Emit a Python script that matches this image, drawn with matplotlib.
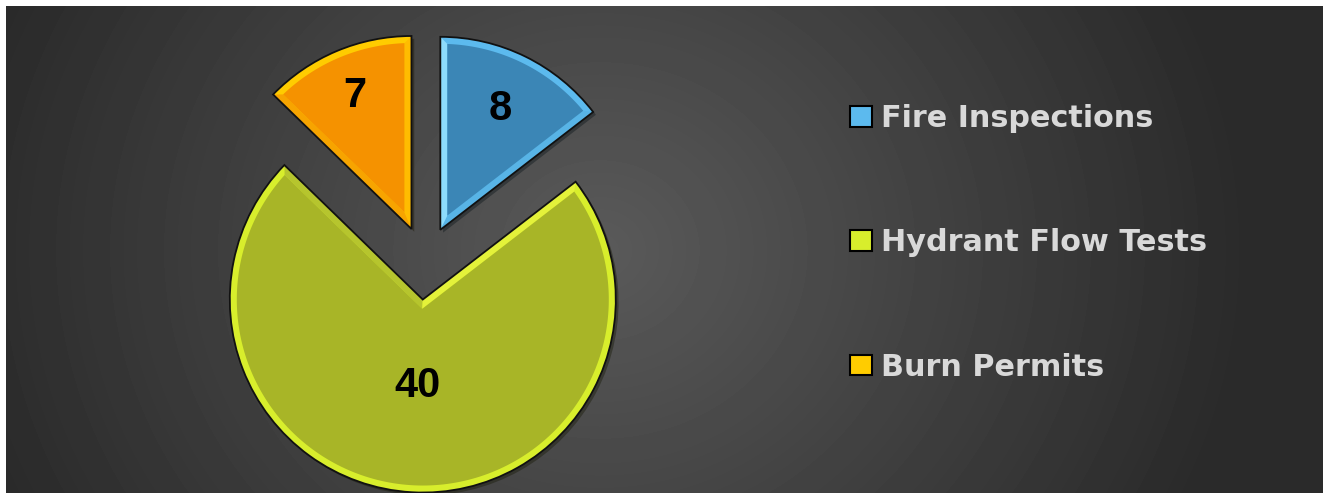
import numpy as np
import matplotlib.pyplot as plt
from matplotlib.patches import Patch, Polygon

labels = ['Fire Inspections', 'Hydrant Flow Tests', 'Burn Permits']
values = [8, 40, 7]
fill_colors = ['#3b86b6', '#a8b527', '#f59200']
bevel_colors = ['#5cbaee', '#d8ee2c', '#ffcc00']
# bevel shade of the two straight edges (theta1 side, theta2 side)
edge_colors = [('#58b4e6', '#8edcfc'), ('#b6c52e', '#e4f23a'), ('#ffbc00', '#f7a400')]
explode = [0.18, 0.2, 0.18]
label_dist = [0.70, 0.45, 0.75]

W, H = 1323, 493
fig = plt.figure(figsize=(W / 100, H / 100), dpi=100)
fig.patch.set_facecolor('white')
ax = fig.add_axes([0, 0, 1, 1])

# dark radial background, pixel coords
yy, xx = np.mgrid[6:H, 6:W]
r = np.sqrt((xx - 600.0) ** 2 + ((yy - 250.0) * 1.1) ** 2)
bg = np.clip(90 - 48 * r / 650, 42, 90) / 255.0
ax.imshow(bg, cmap='gray', vmin=0, vmax=1, extent=(6, W, 0, H - 6),
          origin='upper', interpolation='bilinear', zorder=0)

cx, cy, R = 425, H - 261, 193
bevel = 7
expl_px = [e * R for e in explode]   # pie() takes explode in data units


def inset_wedge(w, b):
    # wedge shrunk by b px on all sides (the inner face of the bevel)
    c = np.array(w.center)
    a1, a2 = np.deg2rad(w.theta1), np.deg2rad(w.theta2)
    half = (a2 - a1) / 2
    mid = (a1 + a2) / 2
    s = b / np.sin(half)
    p = c + s * np.array([np.cos(mid), np.sin(mid)])
    q = p - c
    rin = w.r - b
    hits, outer = [], []
    for a in (a1, a2):
        d = np.array([np.cos(a), np.sin(a)])
        qd = q @ d
        t = -qd + np.sqrt(qd ** 2 - q @ q + rin ** 2)
        hits.append(q + t * d)
        outer.append(c + w.r * d)
    f1 = np.arctan2(hits[0][1], hits[0][0])
    f2 = np.arctan2(hits[1][1], hits[1][0])
    if f2 < f1:
        f2 += 2 * np.pi
    arc = np.linspace(f1, f2, 200)
    pts = np.column_stack([c[0] + rin * np.cos(arc), c[1] + rin * np.sin(arc)])
    strips = [np.array([c, outer[i], c + hits[i], p]) for i in range(2)]
    return np.vstack([p, pts]), strips


# bevel colour slices
wedges, _ = ax.pie(values, colors=bevel_colors, startangle=90, counterclock=False,
                   explode=expl_px, radius=R, center=(cx, cy),
                   wedgeprops=dict(linewidth=0),
                   shadow={'ox': 2, 'oy': -2, 'shade': 0.9, 'alpha': 0.4})
for w, fc, ecs in zip(wedges, fill_colors, edge_colors):
    w.set_zorder(2)
    face, strips = inset_wedge(w, bevel)
    for st, ec in zip(strips, ecs):
        ax.add_patch(Polygon(st, closed=True, facecolor=ec, edgecolor='none', zorder=2.2))
    ax.add_patch(Polygon(face, closed=True, facecolor=fc, edgecolor='none', zorder=2.5))

# black outline
outl, _ = ax.pie(values, startangle=90, counterclock=False, explode=expl_px,
                 radius=R, center=(cx, cy),
                 wedgeprops=dict(fill=False, edgecolor='#111111', linewidth=1.3))
for w in outl:
    w.set_zorder(3)

# value labels
for w, v, d in zip(wedges, values, label_dist):
    ang = np.deg2rad((w.theta1 + w.theta2) / 2)
    x0, y0 = w.center
    ax.text(x0 + d * R * np.cos(ang), y0 + d * R * np.sin(ang), str(v),
            ha='center', va='center', fontsize=30, fontweight='bold',
            family='Liberation Sans', color='black', zorder=4)

ax.set_xlim(0, W)
ax.set_ylim(0, H)
ax.set_aspect('equal')
ax.axis('off')

handles = [Patch(facecolor=c, edgecolor='black', linewidth=1.5) for c in bevel_colors]
fig.legend(handles, labels, loc='upper left', bbox_to_anchor=(850 / W, 1 - 104 / H),
           frameon=False, prop=dict(family='DejaVu Sans', weight='bold', size=21.8),
           labelcolor='#d9d9d9', handlelength=0.72, handleheight=0.67,
           handletextpad=0.3, labelspacing=3.15, borderpad=0, borderaxespad=0)

fig.savefig('out.png', dpi=100, facecolor=fig.get_facecolor())
